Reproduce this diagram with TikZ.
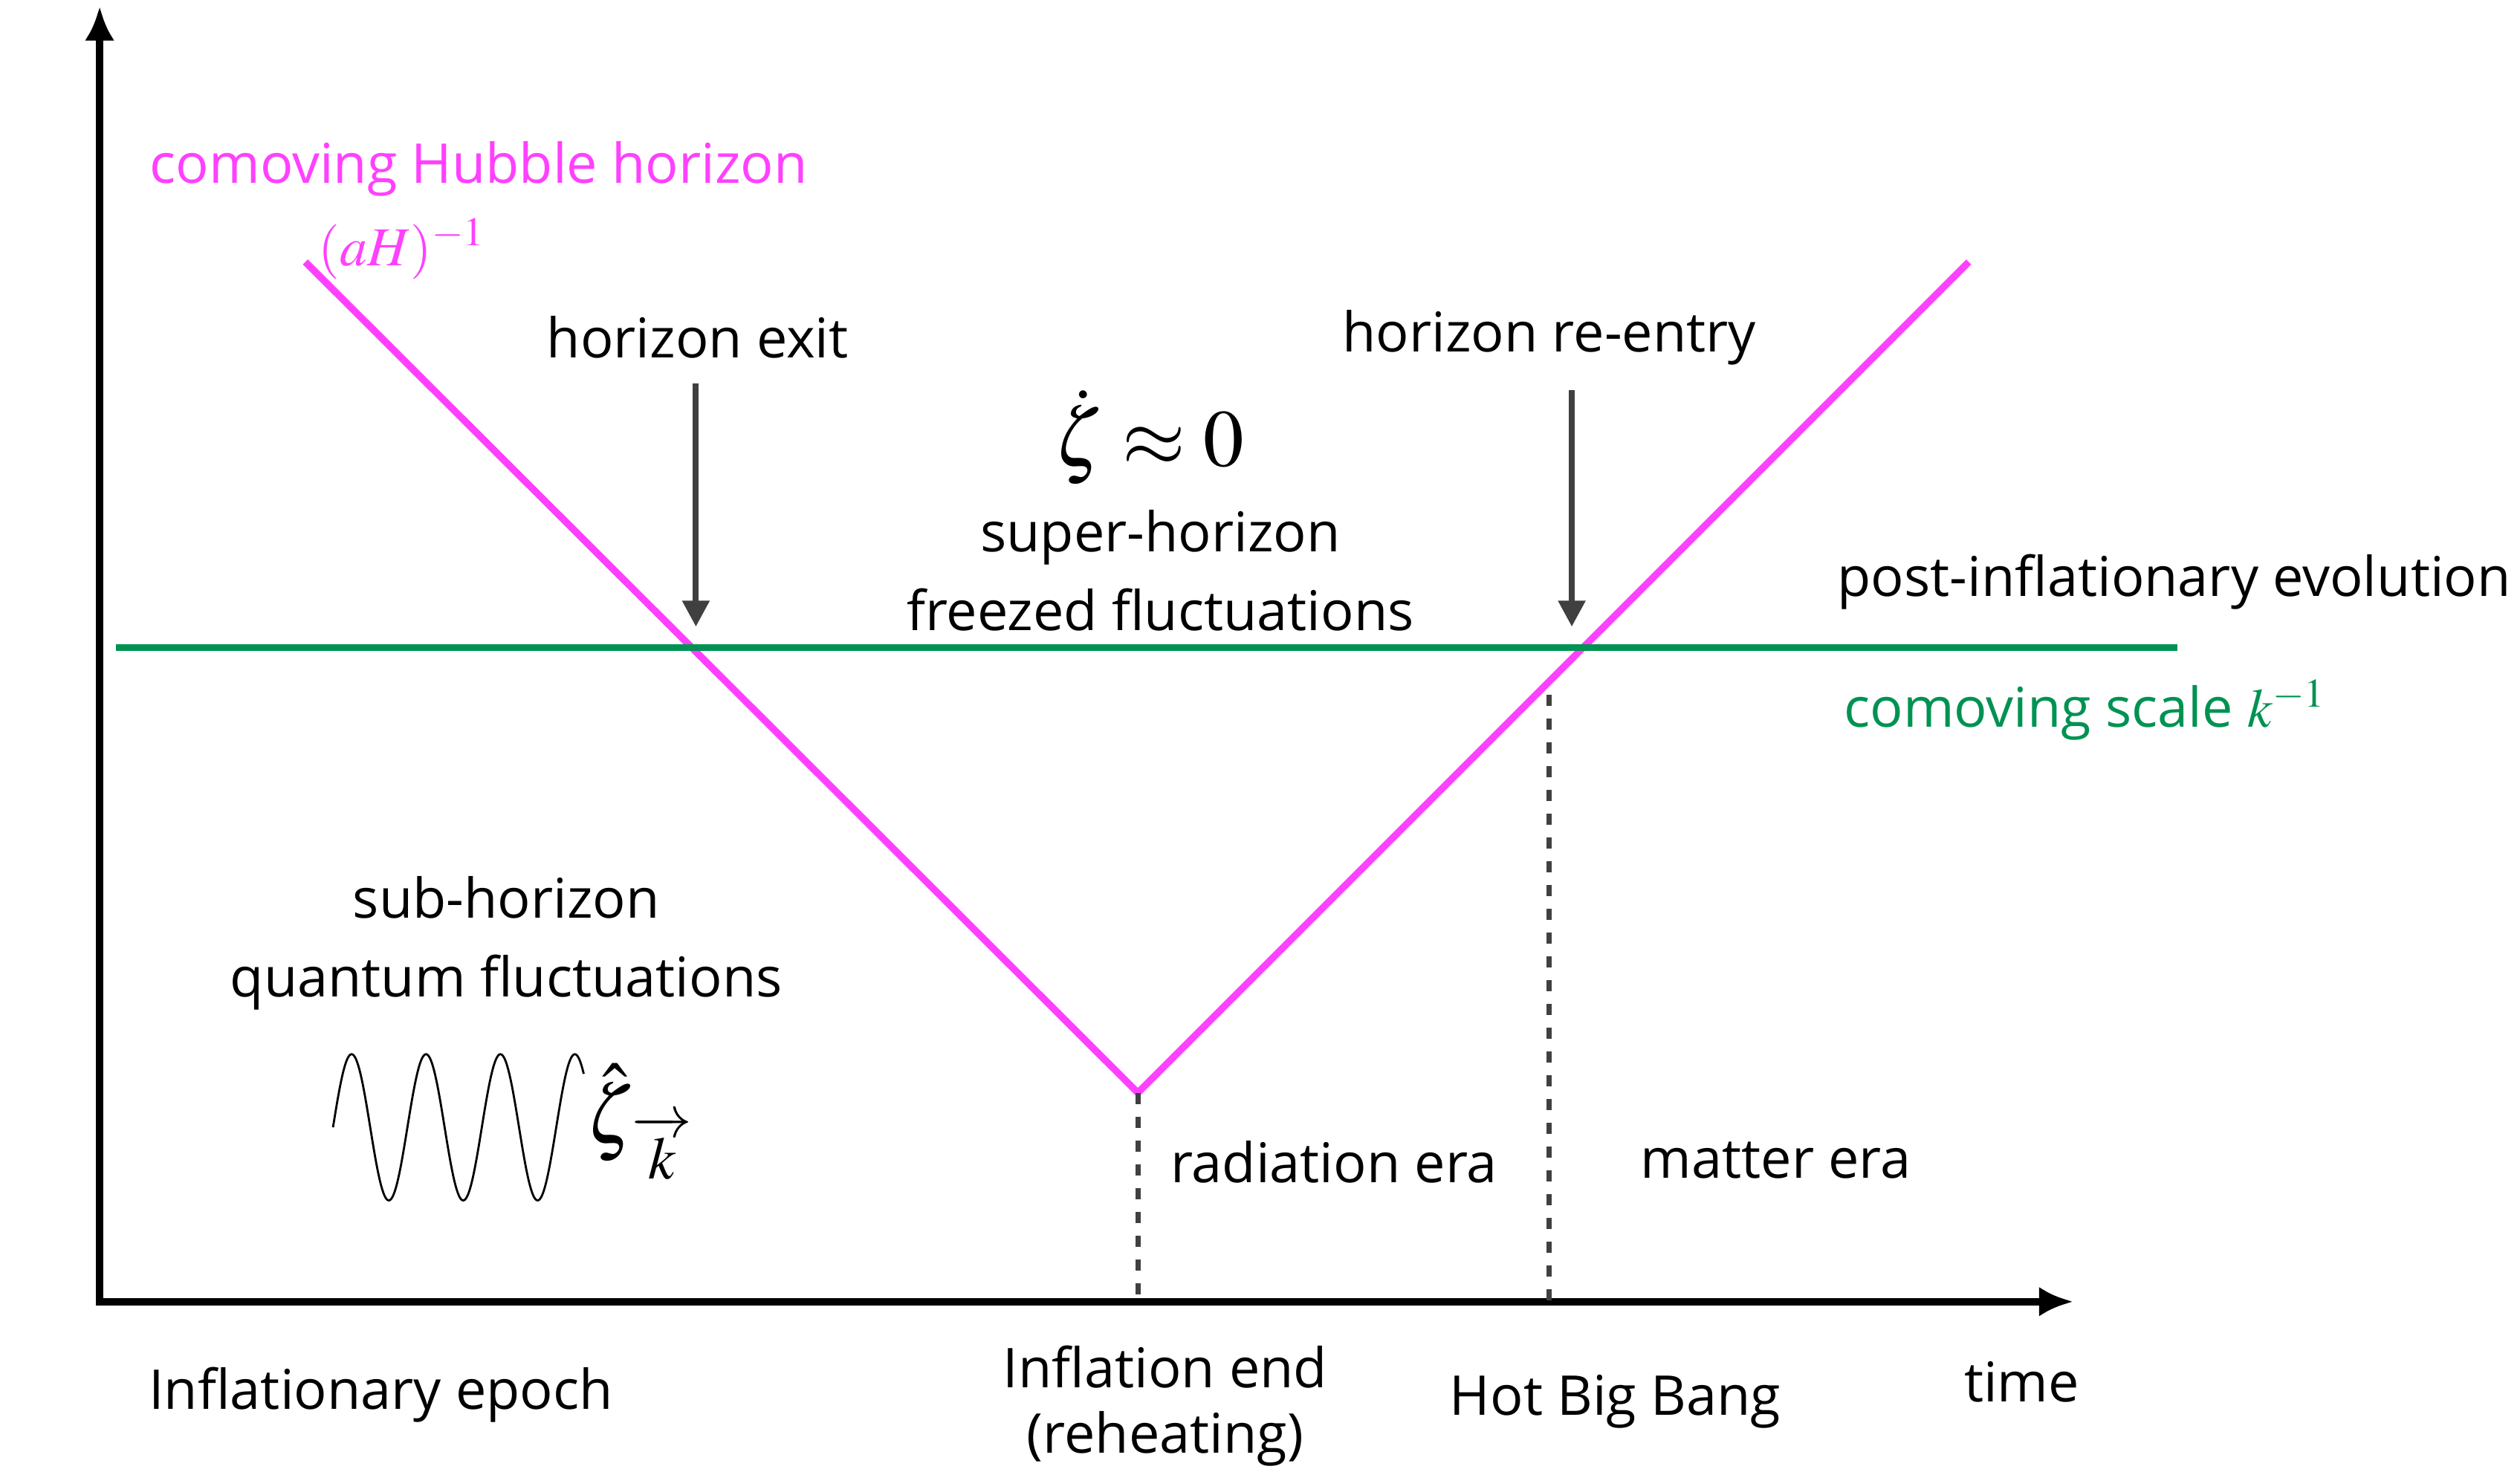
\documentclass[tikz,border=0pt]{standalone}
\usepackage{amsmath,amssymb}
\usepackage{mathptmx}
\usepackage{fontspec}
\setmainfont{Open Sans}
\usepackage{tikz}
\usetikzlibrary{positioning,arrows.meta,calc}
\definecolor{hub}{RGB}{255,64,255}
\definecolor{scl}{RGB}{0,146,82}
\definecolor{arr}{RGB}{64,64,64}

\begin{document}
\begin{tikzpicture}[x=0.021626cm, y=-0.021626cm, >=Latex,
  every node/.style={font=\fontsize{21}{30}\selectfont, inner sep=0pt},
  ax/.style={line width=2.7pt, {Latex[length=0.46cm,width=0.4cm]}-{Latex[length=0.46cm,width=0.4cm]}},
  hh/.style={hub, line width=2.7pt},
  ks/.style={scl, line width=2.8pt},
  pt/.style={arr, line width=2.3pt, -{Triangle[length=0.35cm,width=0.35cm]}},
  dl/.style={arr, line width=2pt, dash pattern=on 4.3pt off 4.8pt},
  big/.style={font=\fontsize{31}{36}\selectfont}]
  \useasboundingbox (0,0) rectangle (1568,916);
  % axes
  \coordinate (O) at (62,810);
  \coordinate (ytip) at (62,4);
  \coordinate (xtip) at (1290,810);
  \draw[ax] (ytip) -- (O) -- (xtip);
  % comoving Hubble horizon and comoving scale
  \coordinate (vl) at (190,163);
  \coordinate (vb) at (708,680);
  \coordinate (vr) at (1225,163);
  \draw[hh] (vl) -- (vb) -- (vr);
  \coordinate (kl) at (72,403);
  \coordinate (kr) at (1355,403);
  \draw[ks] (kl) -- (kr);
  \node[text=hub, anchor=west] (hubl) at (93,105) {comoving Hubble horizon};
  \node[text=hub] (hubm) at (250,155) {$(aH)^{-1}$};
  \node[text=scl, anchor=west] (scal) at (1147,442) {comoving scale $k^{-1}$};
  \node[anchor=west] (post) at (1143,362) {post-inflationary evolution};
  % horizon crossings
  \node (exit) at (434,210) {horizon exit};
  \node (reen) at (964,210) {horizon re-entry};
  \coordinate (xe) at (433,390);
  \coordinate (xr) at (978,390);
  \draw[pt] ([yshift=-0.33cm]exit.south -| xe) -- (xe);
  \draw[pt] ([yshift=-0.33cm]reen.south -| xr) -- (xr);
  \node[big] (zdot) at (715,272) {$\dot\zeta\approx 0$};
  \node[align=center] (super) at (722,355) {super-horizon\\freezed fluctuations};
  % eras
  \coordinate (hb) at ($(vb)!0.495!(vr)$);
  \draw[dl] (vb) -- (vb |- O);
  \draw[dl] ([yshift=-5pt]hb) -- (hb |- O);
  \node (rad) at (830,723) {radiation era};
  \node (mat) at (1105,722) {matter era};
  % sub-horizon wave
  \node[align=center] (sub) at (315,587) {sub-horizon\\quantum fluctuations};
  \draw[line width=0.8pt] plot[domain=0:1213, samples=220]
    ({207.2+\x/360*46.3}, {701.5-45.5*sin(\x)});
  \node[big] (zhat) at (398,698) {$\hat\zeta_{\,\overrightarrow{k}}$};
  % time axis labels
  \node (infl) at (237,868) {Inflationary epoch};
  \node[align=center, font=\fontsize{21}{25}\selectfont] (iend) at (725,875) {Inflation end\\(reheating)};
  \node (hbb) at (1005,872) {Hot Big Bang};
  \node (time) at (1258,860) {time};
\end{tikzpicture}
\end{document}
